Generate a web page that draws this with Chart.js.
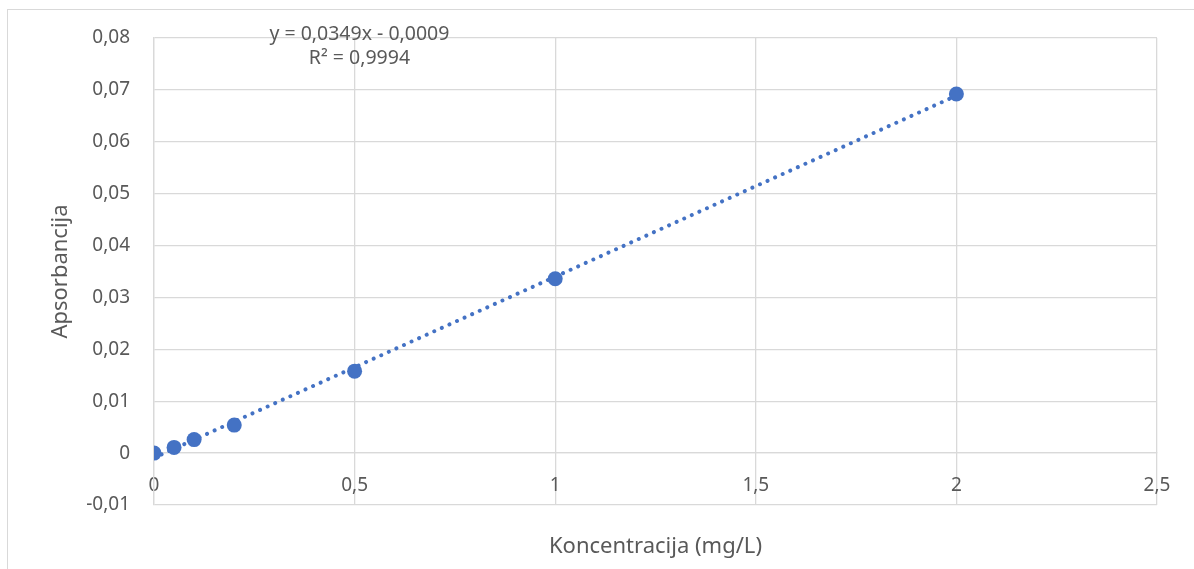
<!DOCTYPE html>
<html>
<head>
<meta charset="utf-8">
<script src="https://cdn.jsdelivr.net/npm/chart.js@4.4.1/dist/chart.umd.min.js"></script>
<style>
  html, body { margin: 0; padding: 0; background: #fff; overflow: hidden; }
  #frame { position: absolute; left: 7px; top: 9px; width: 1300px; height: 700px; border: 1px solid #d9d9d9; }
  #chart { position: absolute; left: 0; top: 0; }
</style>
</head>
<body>
<div id="frame"></div>
<canvas id="chart" width="1194" height="569"></canvas>
<script>
const concentrations = [0, 0.05, 0.1, 0.2, 0.5, 1, 2];
const absorbances    = [0, 0.0011, 0.0026, 0.0054, 0.0158, 0.0336, 0.0692];

// linear trendline as printed on the chart
const slope = 0.0349;
const intercept = -0.0009;
const trendRange = [0, 2];
const trendLabels = ["y = 0,0349x - 0,0009", "R² = 0,9994"];

const xTitle = "Koncentracija (mg/L)";
const yTitle = "Apsorbancija";

const FONT = "'Noto Sans', sans-serif";
const TEXT = "#595959";
const GRID = "#d9d9d9";
const BLUE = "#4472C4";

const points = concentrations.map((c, i) => ({ x: c, y: absorbances[i] }));
const trend = trendRange.map(x => ({ x: x, y: slope * x + intercept }));

// decimal comma like the original
function fmt(v) {
  const r = Math.round(v * 1000) / 1000;
  return String(r).replace(".", ",");
}

// equation text near the top of the plot
const equationLabel = {
  id: "equationLabel",
  afterDatasetsDraw(chart) {
    const { ctx, scales } = chart;
    ctx.save();
    ctx.font = "19.5px " + FONT;
    ctx.fillStyle = TEXT;
    ctx.textAlign = "center";
    ctx.textBaseline = "middle";
    const x = scales.x.getPixelForValue(0.512);
    ctx.fillText(trendLabels[0], x, scales.y.getPixelForValue(0.0807));
    ctx.fillText(trendLabels[1], x, scales.y.getPixelForValue(0.0760));
    ctx.restore();
  }
};

new Chart(document.getElementById("chart").getContext("2d"), {
  type: "scatter",
  data: {
    datasets: [
      {
        label: "Apsorbancija",
        data: points,
        backgroundColor: BLUE,
        borderColor: BLUE,
        pointRadius: 7.5,
        pointBorderWidth: 0,
        order: 0
      },
      {
        label: "Linear",
        data: trend,
        showLine: true,
        pointRadius: 0,
        borderColor: BLUE,
        borderWidth: 4,
        borderDash: [0.01, 8.3],
        borderCapStyle: "round",
        order: 1
      }
    ]
  },
  options: {
    responsive: false,
    devicePixelRatio: 1,
    animation: false,
    layout: { padding: { left: 48, top: 38, right: 37, bottom: 0 } },
    plugins: {
      legend: { display: false },
      tooltip: { enabled: false }
    },
    scales: {
      x: {
        type: "linear",
        position: { y: 0 },
        min: 0,
        max: 2.5,
        ticks: {
          stepSize: 0.5,
          padding: 21,
          color: TEXT,
          font: { family: FONT, size: 19 },
          callback: v => fmt(v)
        },
        grid: { color: GRID, lineWidth: 1.3, drawTicks: false },
        border: { color: GRID, width: 1.3 }
      },
      xTitle: {
        type: "linear",
        axis: "x",
        position: "bottom",
        min: 0,
        max: 2.5,
        ticks: { display: false },
        grid: { display: false },
        border: { display: false },
        title: {
          display: true,
          text: xTitle,
          color: TEXT,
          font: { family: FONT, size: 22 },
          padding: { top: 0, bottom: 9 }
        },
        afterFit: scale => { scale.height = 64; }
      },
      y: {
        type: "linear",
        min: -0.01,
        max: 0.08,
        ticks: {
          stepSize: 0.01,
          padding: 24,
          color: TEXT,
          font: { family: FONT, size: 19 },
          callback: v => fmt(v)
        },
        grid: { color: GRID, lineWidth: 1.3, drawTicks: false },
        border: { color: GRID, width: 1.3 },
        title: {
          display: true,
          text: yTitle,
          color: TEXT,
          font: { family: FONT, size: 22 },
          padding: 0
        },
        afterFit: scale => { scale.width = 106; }
      }
    }
  },
  plugins: [equationLabel]
});
</script>
</body>
</html>
